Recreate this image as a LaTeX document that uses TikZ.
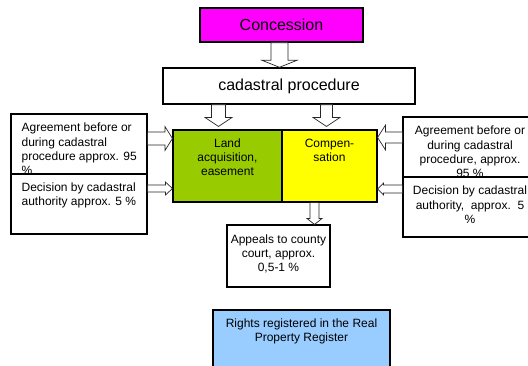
\documentclass[tikz,border=0pt]{standalone}
\usepackage{fontspec}
\setmainfont{Liberation Sans}
\usetikzlibrary{calc}
\definecolor{cmag}{HTML}{FF00FF}
\definecolor{cgreen}{HTML}{99CC00}
\definecolor{cyell}{HTML}{FFFF00}
\definecolor{cblue}{HTML}{99CCFF}
\tikzset{
  boxst/.style={draw=black, line width=1.1pt, rectangle, inner sep=0pt, fill=white},
  bigbox/.style={boxst, line width=1.4pt},
  txt/.style={inner sep=0pt, font=\fontsize{12}{14.2}\selectfont},
  bigtxt/.style={inner sep=0pt, font=\fontsize{16}{18}\selectfont},
  barrow/.style={draw=black!85, line width=0.7pt, fill=white, line join=miter},
}
\newcommand{\blockarrow}[5]{%
  \draw[barrow] let \p1=(#1), \p2=(#2), \n1={atan2(\y2-\y1,\x2-\x1)} in
    ($(\p1)+(\n1+90:#3pt)$) -- ($(\p2)+(\n1+180:#5pt)+(\n1+90:#3pt)$)
    -- ($(\p2)+(\n1+180:#5pt)+(\n1+90:#4pt)$) -- (\p2)
    -- ($(\p2)+(\n1+180:#5pt)+(\n1-90:#4pt)$)
    -- ($(\p2)+(\n1+180:#5pt)+(\n1-90:#3pt)$)
    -- ($(\p1)+(\n1-90:#3pt)$) -- cycle;}
\begin{document}
\begin{tikzpicture}[x=1pt,y=-1pt]
\useasboundingbox (0,0) rectangle (528,365);
\clip (0,0) rectangle (528,365);
% main boxes
\node[bigbox, fill=cmag, minimum width=163pt, minimum height=34pt, bigtxt] (conc) at (281.5,25) {Concession};
\node[bigbox, minimum width=252pt, minimum height=36pt, bigtxt] (cad) at (289,86) {cadastral procedure};
\node[boxst, fill=cgreen, minimum width=109pt, minimum height=72pt] (land) at (227.5,166) {};
\node[txt, anchor=north, align=center] (landt) at ([yshift=-9pt]land.north) {Land\\acquisition,\\easement};
\node[boxst, fill=cyell, minimum width=95pt, minimum height=72pt] (comp) at (329.5,166) {};
\node[txt, anchor=north, align=center] (compt) at ([yshift=-9pt]comp.north) {Compen-\\sation};
% left boxes
\node[boxst, minimum width=136pt, minimum height=60pt] (lt) at (79,144) {};
\node[txt, anchor=north west, align=left] (ltt) at ([shift={(11pt,-9.5pt)}]lt.north west) {Agreement before or\\during cadastral\\procedure approx. 95\\\%};
\node[boxst, minimum width=136pt, minimum height=60pt] (lb) at (79,204) {};
\node[txt, anchor=north west, align=left] (lbt) at ([shift={(11pt,-9pt)}]lb.north west) {Decision by cadastral\\authority approx. 5 \%};
% right boxes
\node[boxst, minimum width=134pt, minimum height=60pt] (rt) at (470,147) {};
\node[txt, anchor=north, align=center] (rtt) at ([yshift=-9.5pt]rt.north) {Agreement before or\\during cadastral\\procedure, approx.\\95 \%};
\node[boxst, minimum width=134pt, minimum height=60pt] (rb) at (470,207) {};
\node[txt, anchor=north, align=center] (rbt) at ([yshift=-9.5pt]rb.north) {Decision by cadastral\\authority,\ \ approx.\ \ 5\\\%};
% appeals and register
\node[boxst, minimum width=103pt, minimum height=62pt] (app) at (278.5,256) {};
\node[txt, anchor=north, align=center] (appt) at ([yshift=-10pt]app.north) {Appeals to county\\court, approx.\\0,5-1 \%};
\node[boxst, fill=cblue, minimum width=177pt, minimum height=70pt] (reg) at (301.5,345) {};
\node[txt, anchor=north, align=center] (regt) at ([yshift=-9.3pt]reg.north) {Rights registered in the Real\\Property Register};
% arrow anchor points
\coordinate (a1) at ([xshift=-2pt]conc.south);
\coordinate (a2) at ([shift={(-9pt,3pt)}]land.north);
\coordinate (a3) at ([shift={(-3pt,3pt)}]comp.north);
\coordinate (a4) at ([yshift=5.5pt]lt.east);
\coordinate (a5) at ([yshift=15.5pt]lb.east);
\coordinate (a6) at ([yshift=9.5pt]rt.west);
\coordinate (a7) at ([yshift=18pt]rb.west);
\coordinate (a8) at ([xshift=-15pt]comp.south);
% block arrows
\blockarrow{a1}{a1 |- cad.north}{8.5}{17.5}{7}
\blockarrow{a2 |- cad.south}{a2}{7}{13.5}{9}
\blockarrow{a3 |- cad.south}{a3}{6}{13.5}{9}
\blockarrow{a4}{land.west |- a4}{6.5}{12}{7.5}
\blockarrow{a5}{land.west |- a5}{3.5}{6.5}{7}
\blockarrow{a6}{comp.east |- a6}{5.5}{12.5}{8}
\blockarrow{a7}{comp.east |- a7}{4}{6}{6}
\blockarrow{a8}{a8 |- app.north}{4.5}{7.5}{6}
\end{tikzpicture}
\end{document}
